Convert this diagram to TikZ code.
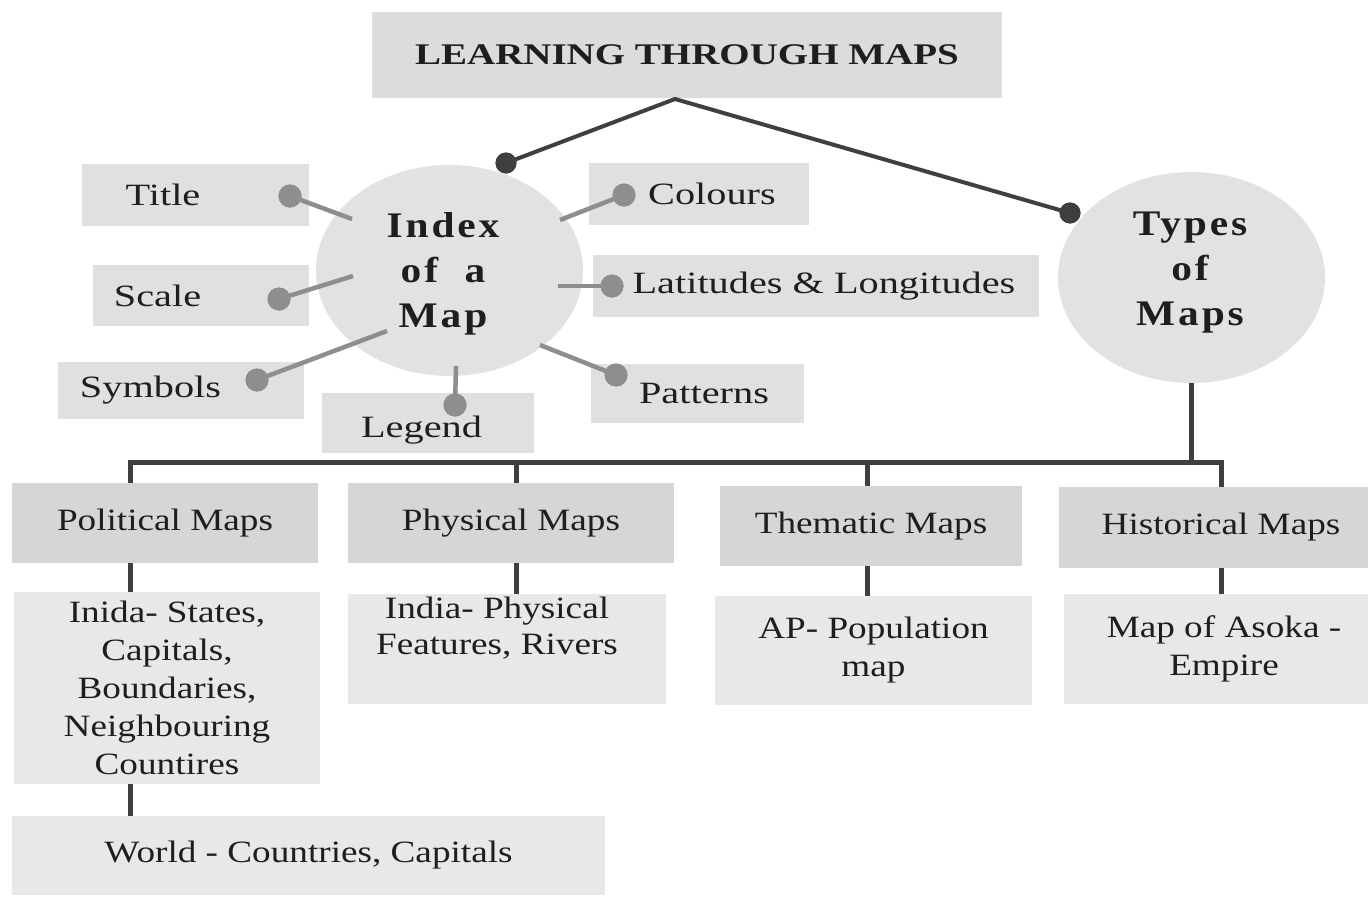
\documentclass[tikz,border=0pt]{standalone}
\usepackage{fontspec}
\setmainfont{Liberation Serif}
\newfontfamily\upf[FakeStretch=1.3]{Liberation Serif}
\newfontfamily\lowf[FakeStretch=1.2]{Liberation Serif}
\newfontfamily\headf[FakeStretch=1.3]{Liberation Serif}
\newfontfamily\circf[FakeStretch=1.15,LetterSpace=8]{Liberation Serif}
\usetikzlibrary{shapes.geometric}
\definecolor{topgray}{HTML}{DCDCDC}
\definecolor{circgray}{HTML}{E2E2E2}
\definecolor{lblgray}{HTML}{E0E0E0}
\definecolor{headgray}{HTML}{D6D6D6}
\definecolor{detgray}{HTML}{E8E8E8}
\definecolor{dark}{HTML}{3F3F3F}
\definecolor{spokegray}{HTML}{8E8E8E}
\definecolor{txt}{HTML}{1E1E1E}
\tikzset{
  topbox/.style={rectangle, fill=topgray, inner sep=0pt, text=txt,
    font=\headf\bfseries\fontsize{30}{36}\selectfont},
  circ/.style={ellipse, fill=circgray, minimum width=267pt, minimum height=211pt, inner sep=0pt},
  ctext/.style={align=center, text=txt, inner sep=0pt, font=\circf\bfseries\fontsize{36}{45}\selectfont},
  lbl/.style={rectangle, fill=lblgray, inner sep=0pt, text=txt, font=\upf\fontsize{31}{38}\selectfont},
  head/.style={rectangle, fill=headgray, inner sep=0pt, text=txt, font=\lowf\fontsize{31}{38}\selectfont},
  detail/.style={rectangle, fill=detgray, inner sep=0pt, align=center, text=txt, font=\lowf\fontsize{31}{38}\selectfont},
  ltext/.style={align=center, inner sep=0pt, text=txt, font=\lowf\fontsize{31}{36}\selectfont},
  dkline/.style={draw=dark, line width=4pt},
  tree/.style={draw=dark, line width=5pt},
  spoke/.style={draw=spokegray, line width=4.5pt},
  bigdot/.style={circle, fill=dark, minimum size=21pt, inner sep=0pt},
  smdot/.style={circle, fill=spokegray, minimum size=23pt, inner sep=0pt}
}
\begin{document}
\begin{tikzpicture}[x=1pt, y=-1pt]
\useasboundingbox[fill=white] (0,0) rectangle (1368,897);

% top box
\node[topbox, minimum width=630, minimum height=86] (top) at (687,55) {LEARNING THROUGH MAPS};

% circles
\node[circ] (idx) at (449.5,270.5) {};
\node[ctext] (idxt) at (443,274) {Index\\of~~a\\Map};
\node[circ] (tm) at (1191.5,277.5) {};
\node[ctext] (tmt) at (1190,273) {Types\\of\\Maps};

% label boxes
\node[lbl, minimum width=227, minimum height=62] (title) at (195.5,195) {Title\hspace*{65pt}};
\node[lbl, minimum width=216, minimum height=61] (scale) at (201,295.5) {Scale\hspace*{87pt}};
\node[lbl, minimum width=246, minimum height=57] (symb) at (181,390.5) {Symbols\hspace*{61pt}};
\node[lbl, minimum width=212, minimum height=60] (leg) at (428,423) {\rule{0pt}{36pt}Legend\hspace*{13pt}};
\node[lbl, minimum width=220, minimum height=62] (col) at (699,194) {\hspace*{26pt}Colours};
\node[lbl, minimum width=446, minimum height=62] (lat) at (816,286) {\hspace*{16pt}Latitudes \& Longitudes};
\node[lbl, minimum width=213, minimum height=59] (pat) at (697.5,393.5) {\hspace*{13pt}Patterns};

% heading boxes
\node[head, minimum width=306, minimum height=80] (pol) at (165,523) {Political Maps};
\node[head, minimum width=326, minimum height=80] (phy) at (511,523) {Physical Maps};
\node[head, minimum width=302, minimum height=80] (the) at (871,526) {Thematic Maps};
\node[head, minimum width=309, minimum height=81] (his) at (1213.5,527.5) {\hspace*{15pt}Historical Maps};

% detail boxes
\node[detail, minimum width=306, minimum height=192] (pold) at (167,688) {Inida- States,\\Capitals,\\Boundaries,\\Neighbouring\\Countires};
\node[detail, minimum width=318, minimum height=110] (phyd) at (507,649) {};
\node[ltext] (phydt) at (497,628) {India- Physical\\Features, Rivers};
\node[detail, minimum width=317, minimum height=109] (thed) at (873.5,650.5) {AP- Population\\map};
\node[detail, minimum width=304, minimum height=110] (hisd) at (1216,649) {\hspace*{16pt}Map of Asoka -\\\hspace*{16pt}Empire};
\node[detail, minimum width=593, minimum height=79] (world) at (308.5,855.5) {World - Countries, Capitals};

% spokes from Index of a Map
\coordinate (s1) at (352,219);
\coordinate (s2) at (353,276);
\coordinate (s3) at (387,331);
\coordinate (s4) at (456,366);
\coordinate (s5) at (560,220);
\coordinate (s6) at (558,286);
\coordinate (s7) at (540,345);
\node[smdot] (p1) at (290,196) {};
\node[smdot] (p2) at (279,299) {};
\node[smdot] (p3) at (257,380) {};
\node[smdot] (p4) at (455,405) {};
\node[smdot] (p5) at (624,195) {};
\node[smdot] (p6) at (612,286) {};
\node[smdot] (p7) at (616,375) {};
\foreach \i in {1,...,7} { \draw[spoke] (s\i) -- (p\i.center); }
\foreach \i in {1,...,7} { \node[smdot] at (p\i) {}; }

% top connectors
\coordinate (apex) at (675,99);
\node[bigdot] (d1) at (506,163) {};
\node[bigdot] (d2) at (1070,213) {};
\draw[dkline, line join=round] (d1.center) -- (apex) -- (d2.center);
\node[bigdot] at (d1) {};
\node[bigdot] at (d2) {};

% tree
\coordinate (b1) at (130,462);
\coordinate (b2) at (516,462);
\coordinate (b3) at (867,462);
\coordinate (b4) at (1221,462);
\draw[tree] (tm.south) -- (tm.south |- b1);
\draw[tree] (b1 |- pol.north) -- (b1) -- (b4) -- (b4 |- his.north);
\draw[tree] (b2) -- (b2 |- phy.north);
\draw[tree] (b3) -- (b3 |- the.north);
\draw[tree] (b1 |- pol.south) -- (b1 |- pold.north);
\draw[tree] (b2 |- phy.south) -- (b2 |- phyd.north);
\draw[tree] (b3 |- the.south) -- (b3 |- thed.north);
\draw[tree] (b4 |- his.south) -- (b4 |- hisd.north);
\draw[tree] (b1 |- pold.south) -- (b1 |- world.north);
\end{tikzpicture}
\end{document}
